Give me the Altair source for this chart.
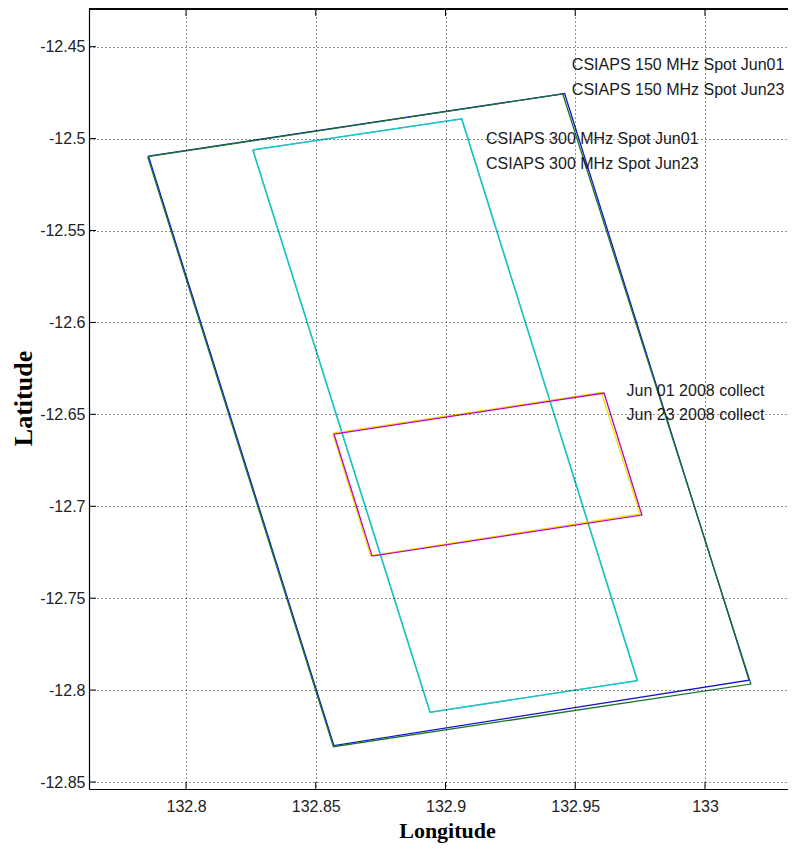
import altair as alt
import pandas as pd

# ---- data ----
green_lon = [132.7852, 132.9452, 133.0177, 132.8568, 132.7852]
green_lat = [-12.5098, -12.4757, -12.7967, -12.8308, -12.5098]
blue_lon = [132.7855, 132.9459, 133.0170, 132.8570, 132.7855]
blue_lat = [-12.5095, -12.4755, -12.7946, -12.8302, -12.5095]
cyan1_lon = [132.8257, 132.9062, 132.9739, 132.8940, 132.8257]
cyan1_lat = [-12.5062, -12.4893, -12.7949, -12.8121, -12.5062]
cyan2_lon = [132.8258, 132.9063, 132.9740, 132.8941, 132.8258]
cyan2_lat = [-12.5061, -12.4892, -12.7948, -12.8120, -12.5061]
yellow_lon = [132.8565, 132.9601, 132.9750, 132.8711, 132.8565]
yellow_lat = [-12.6602, -12.6381, -12.7042, -12.7268, -12.6602]
magenta_lon = [132.8570, 132.9611, 132.9757, 132.8717, 132.8570]
magenta_lat = [-12.6607, -12.6384, -12.7048, -12.7271, -12.6607]

ann_text = ["CSIAPS 150 MHz Spot Jun01", "CSIAPS 150 MHz Spot Jun23",
            "CSIAPS 300 MHz Spot Jun01", "CSIAPS 300 MHz Spot Jun23",
            "Jun 01 2008 collect", "Jun 23 2008 collect"]
ann_lon = [132.9487, 132.9487, 132.9156, 132.9156, 132.9698, 132.9698]
ann_lat = [-12.4600, -12.4736, -12.5004, -12.5138, -12.6372, -12.6504]

x_ticks = [132.8, 132.85, 132.9, 132.95, 133]
y_ticks = [-12.45, -12.5, -12.55, -12.6, -12.65, -12.7, -12.75, -12.8, -12.85]

x_domain = [132.7626, 133.0320]
y_domain = [-12.8538, -12.4295]

W, H = 699, 780
LABEL_FONT = "Liberation Sans"
xs = alt.Scale(domain=x_domain, nice=False, zero=False)
ys = alt.Scale(domain=y_domain, nice=False, zero=False)


def poly(lons, lats):
    return pd.DataFrame({"lon": lons, "lat": lats, "i": list(range(len(lons)))})


x_axis = alt.Axis(values=x_ticks, labelExpr="datum.value + ''", grid=True,
                  gridDash=[1, 3], gridColor="black", gridOpacity=0.85,
                  ticks=False, domain=True, domainColor="black", domainWidth=1.2,
                  labelFont=LABEL_FONT,
                  labelFontSize=16, labelColor="#222", labelPadding=9,
                  labelOverlap=False, labelFlush=False,
                  title="Longitude", titleFont="Liberation Serif",
                  titleFontSize=22, titleFontWeight="bold", titleColor="black",
                  titleX=358, titleY=48, titleBaseline="alphabetic",
                  titleAlign="center", zindex=1)
y_axis = alt.Axis(values=y_ticks, labelExpr="datum.value + ''", grid=True,
                  gridDash=[1, 3], gridColor="black", gridOpacity=0.85,
                  ticks=False, domain=True, domainColor="black", domainWidth=1.2,
                  labelFont=LABEL_FONT,
                  labelFontSize=16, labelColor="#222", labelPadding=4,
                  labelOverlap=False, labelFlush=False,
                  title="Latitude", titleFont="Liberation Serif",
                  titleFontSize=26, titleFontWeight="bold", titleColor="black",
                  titleX=-66, titleY=389, titleAngle=270,
                  titleBaseline="middle", titleAlign="center", zindex=1)


def line_layer(lons, lats, color):
    return alt.Chart(poly(lons, lats)).mark_line(
        color=color, strokeWidth=1.3, clip=True
    ).encode(
        x=alt.X("lon:Q", scale=xs, axis=x_axis),
        y=alt.Y("lat:Q", scale=ys, axis=y_axis),
        order="i:O",
    )


layers = [
    line_layer(blue_lon, blue_lat, "#1414c8"),
    line_layer(green_lon, green_lat, "#17762a"),
    line_layer(cyan1_lon, cyan1_lat, "#1cc4c4"),
    line_layer(cyan2_lon, cyan2_lat, "#1cc4c4"),
    line_layer(yellow_lon, yellow_lat, "#e8e800"),
    line_layer(magenta_lon, magenta_lat, "#c000c0"),
]

ann = pd.DataFrame({"t": ann_text, "lon": ann_lon, "lat": ann_lat})
text_layer = alt.Chart(ann).mark_text(
    align="left", baseline="middle", font=LABEL_FONT, fontSize=16, color="#1a1a1a"
).encode(
    x=alt.X("lon:Q", scale=xs, axis=x_axis),
    y=alt.Y("lat:Q", scale=ys, axis=y_axis),
    text="t:N",
)

xt = pd.DataFrame({"v": x_ticks})
yt = pd.DataFrame({"v": y_ticks})
tick_bottom = alt.Chart(xt).mark_rule(color="black").encode(
    x=alt.X("v:Q", scale=xs, axis=x_axis), y=alt.value(H), y2=alt.value(H - 7))
tick_top = alt.Chart(xt).mark_rule(color="black").encode(
    x=alt.X("v:Q", scale=xs, axis=x_axis), y=alt.value(0), y2=alt.value(7))
tick_left = alt.Chart(yt).mark_rule(color="black").encode(
    y=alt.Y("v:Q", scale=ys, axis=y_axis), x=alt.value(0), x2=alt.value(7))
top_border = alt.Chart(xt).mark_rule(color="black", strokeWidth=1.2).encode(
    x=alt.value(0), x2=alt.value(W), y=alt.value(0))

chart = alt.layer(*layers, text_layer, tick_bottom, tick_top, tick_left,
                  top_border).properties(
    width=W, height=H,
    autosize=alt.AutoSizeParams(type="none"),
    padding={"left": 81, "top": 1, "right": 0, "bottom": 55},
    background="white",
).configure_view(stroke=None)

chart.save("out.html", embed_options={"renderer": "svg", "actions": False})
